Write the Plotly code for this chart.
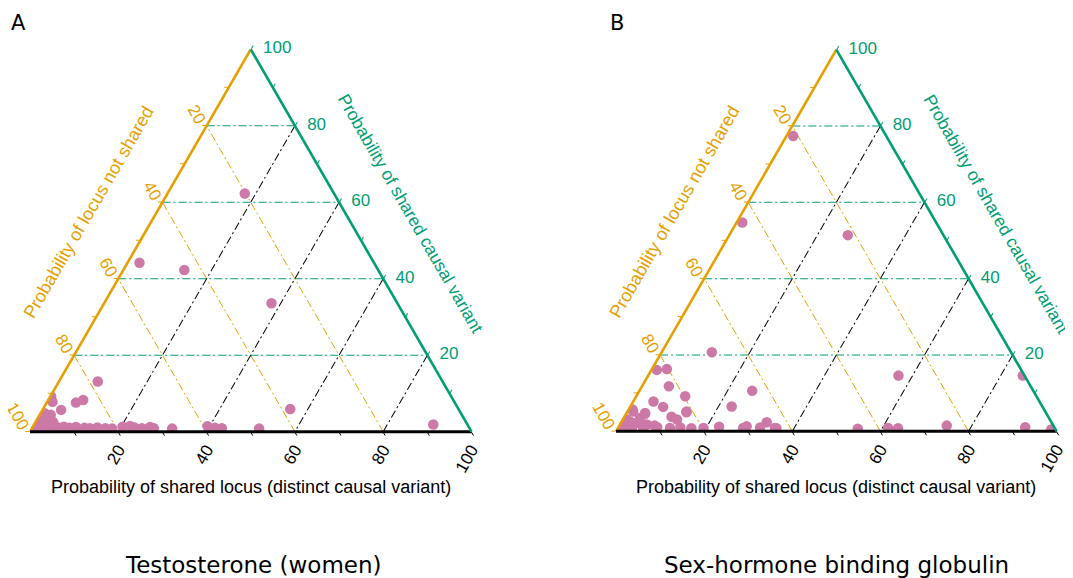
import plotly.graph_objects as go

# ---------------- data (percent) ----------------
# a = Probability of shared causal variant (top vertex)
# b = Probability of locus not shared (bottom-left vertex)
# c = Probability of shared locus, distinct causal variant (bottom-right vertex)
testo_shared_causal = [62.3, 44.2, 42.3, 33.6, 13.1, 5.9, 1.9, 7.6, 8.3, 5.7, 7.8, 9.2, 4.4,
                       1.8, 3.1, 3.6, 1.5, 2.5, 1.0, 0.4, 4.8,
                       1.4, 1.2, 1.5, 1.1, 1.3, 1.0, 1.2, 1.0, 0.9, 1.1, 0.9, 0.8, 1.3, 1.5,
                       1.1, 0.9, 1.2, 0.9, 0.8, 1.4, 1.0, 0.9, 0.8]
testo_distinct = [17.5, 2.7, 13.8, 37.9, 8.8, 56.0, 90.4, 6.6, 7.9, 4.2, 1.2, 0.2, 2.5,
                  1.2, 1.4, 2.4, 2.7, 4.0, 1.1, 0.6, 0.9,
                  1.9, 3.2, 4.6, 5.8, 7.0, 8.4, 9.8, 11.8, 13.1, 14.7, 16.6, 18.2, 20.3, 21.9,
                  23.1, 24.9, 26.6, 27.6, 31.8, 39.5, 41.4, 43.0, 51.5]
testo_not_shared = [20.2, 53.1, 43.9, 28.5, 78.1, 38.1, 7.7, 85.8, 83.8, 90.1, 91.0, 90.6, 93.1,
                    97.0, 95.5, 94.0, 95.8, 93.5, 97.9, 99.0, 94.3,
                    96.7, 95.6, 93.9, 93.1, 91.7, 90.6, 89.0, 87.2, 86.0, 84.2, 82.5, 81.0, 78.4, 76.6,
                    75.8, 74.2, 72.2, 71.5, 67.4, 59.1, 57.6, 56.1, 47.7]

shbg_shared_causal = [77.4, 54.7, 51.4, 20.7, 14.6, 14.6, 10.6, 6.5, 16.1, 16.3, 11.8, 9.2, 7.8,
                      6.4, 5.0, 3.8, 4.8, 5.7, 2.4, 1.5, 1.1, 0.5,
                      3.1, 2.2, 1.3, 1.8, 3.5, 1.2, 5.2, 4.6, 5.2, 3.1, 1.3, 0.9,
                      1.0, 0.9, 1.1, 0.9, 1.0, 0.8, 0.9, 1.2, 0.9, 1.0, 0.8, 0.7, 0.9, 0.8,
                      0.5, 2.5, 1.5]
shbg_distinct = [1.5, 1.3, 26.9, 11.4, 56.8, 85.0, 25.6, 23.0, 1.2, 3.4, 6.1, 11.1, 4.6,
                 7.5, 13.5, 10.7, 4.2, 0.9, 33.0, 74.3, 92.3, 98.5,
                 0.9, 3.6, 2.9, 6.1, 3.7, 1.0, 1.3, 4.3, 13.4, 12.3, 29.0, 35.6,
                 3.1, 5.7, 8.8, 11.8, 14.1, 16.7, 19.4, 22.8, 28.4, 32.2, 36.0, 54.5, 61.3, 63.6,
                 0.5, 2.0, 8.0]
shbg_not_shared = [21.1, 44.0, 21.7, 67.9, 28.6, 0.4, 63.8, 70.5, 82.7, 80.3, 82.1, 79.7, 87.6,
                   86.1, 81.5, 85.5, 91.0, 93.4, 64.6, 24.2, 6.6, 1.0,
                   96.0, 94.2, 95.8, 92.1, 92.8, 97.8, 93.5, 91.1, 81.4, 84.6, 69.7, 63.5,
                   95.9, 93.4, 90.1, 87.3, 84.9, 82.5, 79.7, 76.0, 70.7, 66.8, 63.2, 44.8, 37.8, 35.6,
                   99.0, 95.5, 90.5]

tick_positions = [0, 20, 40, 60, 80]
tick_labels = ["100", "80", "60", "40", "20"]
all_tick_positions = [0, 10, 20, 30, 40, 50, 60, 70, 80, 90]

panel_titles = ["Testosterone (women)", "Sex-hormone binding globulin"]
panel_letters = ["A", "B"]
title_not_shared = "Probability of locus not shared"
title_shared_causal = "Probability of shared causal variant"
title_distinct = "Probability of shared locus (distinct causal variant)"

# ---------------- styling ----------------
ORANGE = "#E69F00"
GREEN = "#009E73"
PINK = "#CC79A7"
FONT = "Liberation Sans, Arial, sans-serif"
OFF = 8                      # page body margin
W, H = 1073 - OFF, 578 - OFF
DASH = "8px,3px,2px,3px"
NBSP = "\u00a0"


def X(px):
    return (px - OFF) / W


def Y(py):
    return 1 - (py - OFF) / H


def axis(line_color, grid_color, label_color, angle, pad="", lw=2.6):
    return dict(
        title=dict(text=""),
        min=0,
        tickmode="array", tickvals=tick_positions,
        ticktext=[pad + t for t in tick_labels],
        ticks="",
        tickfont=dict(family=FONT, size=17, color=label_color),
        tickangle=angle,
        showline=True, linecolor=line_color, linewidth=lw,
        showgrid=True, gridcolor=grid_color, gridwidth=1.4, griddash=DASH,
    )


def tick_axis(color):
    return dict(
        title=dict(text=""), min=0,
        tickmode="array", tickvals=all_tick_positions, ticktext=[""] * len(all_tick_positions),
        ticks="outside", ticklen=4, tickwidth=1.2, tickcolor=color,
        showticklabels=False, showline=False, showgrid=False,
    )


def tern(x0, x1, y_top, y_bot):
    return dict(
        sum=100,
        bgcolor="white",
        domain=dict(x=[X(x0), X(x1)], y=[Y(y_bot), Y(y_top)]),
        # aaxis: drawn on left edge -> shows "locus not shared" values
        aaxis=axis(ORANGE, GREEN, ORANGE, 60),
        # baxis: drawn on bottom edge -> shows "distinct causal variant" values
        baxis=axis("black", ORANGE, "black", -60, lw=3),
        # caxis: drawn on right edge -> shows "shared causal variant" values
        caxis=axis(GREEN, "black", GREEN, 0, pad=NBSP * 2),
    )


def tern_ticks(x0, x1, y_top, y_bot):
    return dict(
        sum=100,
        bgcolor="rgba(0,0,0,0)",
        domain=dict(x=[X(x0), X(x1)], y=[Y(y_bot), Y(y_top)]),
        aaxis=tick_axis(ORANGE), baxis=tick_axis("black"), caxis=tick_axis(GREEN),
    )


fig = go.Figure()
fig.add_trace(go.Scatterternary(
    a=testo_shared_causal, b=testo_not_shared, c=testo_distinct,
    mode="markers", marker=dict(color=PINK, size=10.5, line=dict(width=0)),
    subplot="ternary", showlegend=False, hoverinfo="skip"))
fig.add_trace(go.Scatterternary(
    a=shbg_shared_causal, b=shbg_not_shared, c=shbg_distinct,
    mode="markers", marker=dict(color=PINK, size=10.5, line=dict(width=0)),
    subplot="ternary2", showlegend=False, hoverinfo="skip"))
for sp in ["ternary3", "ternary4"]:
    fig.add_trace(go.Scatterternary(a=[], b=[], c=[], mode="markers",
                                    subplot=sp, showlegend=False, hoverinfo="skip"))

ann = []


def A(text, px, py, size, color="black", angle=0, family=FONT):
    ann.append(dict(text=text, x=X(px), y=Y(py), xref="paper", yref="paper",
                    showarrow=False, xanchor="center", yanchor="middle",
                    textangle=angle, font=dict(family=family, size=size, color=color)))


centers = [250.8, 836.3]
for i, cx in enumerate(centers):
    A(panel_letters[i], [18, 617][i], 23, 21, family="DejaVu Sans, sans-serif")
    A(title_not_shared, cx - 162, 212, 18, ORANGE, -60)
    A(title_shared_causal, cx + 160, 214, 17.5, GREEN, 60)
    A(title_distinct, cx, 487, 18)
    A(panel_titles[i], [253, 836][i], 565, 23, family="DejaVu Sans, sans-serif")

PANEL_A = (30, 471.5, 49.3, 431.7)
PANEL_B = (616, 1056.7, 49.3, 431.7)

fig.update_layout(
    width=W, height=H,
    margin=dict(l=0, r=0, t=0, b=0),
    paper_bgcolor="white",
    ternary=tern(*PANEL_A),
    ternary2=tern(*PANEL_B),
    ternary3=tern_ticks(*PANEL_A),
    ternary4=tern_ticks(*PANEL_B),
    annotations=ann,
    showlegend=False,
)

fig.write_html("out.html")
